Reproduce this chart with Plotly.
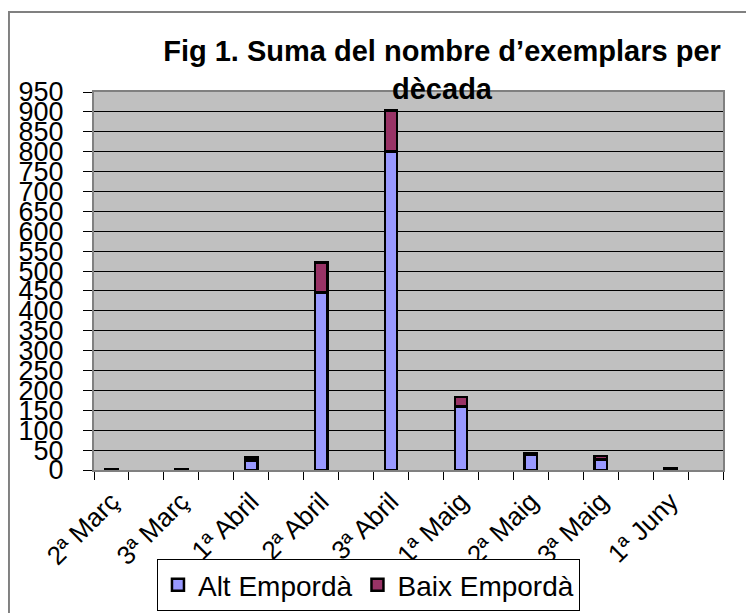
import plotly.graph_objects as go

# ---- data ----
labels = ["2ª Març", "3ª Març", "1ª Abril", "2ª Abril", "3ª Abril",
          "1ª Maig", "2ª Maig", "3ª Maig", "1ª Juny"]
alt_emporda = [0, 0, 24, 446, 800, 160, 38, 27, 0]
baix_emporda = [2, 2, 7, 75, 104, 23, 5, 8, 4]
y_tick_values = list(range(0, 951, 50))

# category slots: each labelled decade is followed by an empty slot
slots = []
for i, lab in enumerate(labels):
    slots.append(lab)
    slots.append(" " * (i + 1))

FONT = "Liberation Sans, Arial, sans-serif"
edge = dict(color="#000000", width=2.5)

# page body has an 8px default margin, so the figure is 8px smaller
W, H = 746, 605

fig = go.Figure()
fig.add_bar(x=labels, y=alt_emporda, name="Alt Empordà",
            marker=dict(color="#9999FF", line=edge))
fig.add_bar(x=labels, y=baix_emporda, name="Baix Empordà",
            marker=dict(color="#993366", line=edge))

fig.update_layout(
    width=W, height=H,
    barmode="stack", bargap=0.65,
    paper_bgcolor="#FFFFFF", plot_bgcolor="#C0C0C0",
    font=dict(family=FONT, size=27, color="#000000"),
    margin=dict(l=86, r=31, t=84, b=143, autoexpand=False),
    title=dict(text="<b>Fig 1. Suma del nombre d’exemplars per<br>dècada</b>",
               font=dict(family=FONT, size=29, color="#000000"),
               xref="container", x=0.5818, xanchor="center",
               yref="container", y=0.9127, yanchor="top"),
    showlegend=True,
    legend=dict(orientation="h", xref="container", x=0.4832, xanchor="center",
                yref="container", y=0.0893, yanchor="top",
                bgcolor="#FFFFFF", bordercolor="#000000", borderwidth=1,
                font=dict(family=FONT, size=28), traceorder="normal"),
    xaxis=dict(type="category", categoryorder="array", categoryarray=slots,
               range=[-0.5, len(slots) - 0.5], tickson="boundaries",
               ticks="outside", ticklen=8, tickcolor="#000000", tickwidth=1,
               tickangle=-45, showgrid=False, ticklabelstandoff=4,
               showline=True, linecolor="#808080", linewidth=2, mirror=True,
               tickfont=dict(family=FONT, size=26)),
    yaxis=dict(range=[0, 950], tickmode="array", tickvals=y_tick_values,
               ticks="outside", ticklen=9, tickcolor="#000000", tickwidth=1,
               showgrid=True, gridcolor="#000000", gridwidth=1, zeroline=False,
               showline=True, linecolor="#808080", linewidth=2, mirror=True,
               ticklabelstandoff=14, tickfont=dict(family=FONT, size=27)),
    shapes=[dict(type="rect", xref="paper", yref="paper",
                 x0=-0.1352, x1=1.06, y0=-0.40, y1=1.2118,
                 line=dict(color="#808080", width=2), fillcolor="rgba(0,0,0,0)",
                 layer="below")],
)

fig.write_html("out.html")
